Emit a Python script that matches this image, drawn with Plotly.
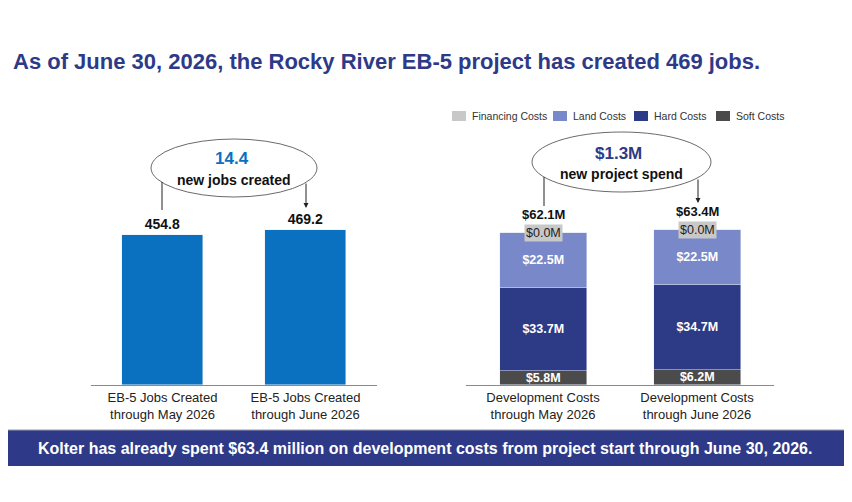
import plotly.graph_objects as go

# The page body adds an 8px margin, so the figure is sized to fit the remaining window.
OFF = 8
W, H = 852 - OFF, 478

# ---------------- data ----------------
jobs_categories = ["EB-5 Jobs Created<br>through May 2026", "EB-5 Jobs Created<br>through June 2026"]
jobs_values = [454.8, 469.2]
jobs_change_label = "14.4"

cost_categories = ["Development Costs<br>through May 2026", "Development Costs<br>through June 2026"]
soft_costs = [5.8, 6.2]
hard_costs = [33.7, 34.7]
land_costs = [22.5, 22.5]
financing_costs = [0.0, 0.0]
cost_totals = [62.1, 63.4]
cost_change_label = "$1.3M"

legend_names = ["Financing Costs", "Land Costs", "Hard Costs", "Soft Costs"]

title_text = "As of June 30, 2026, the Rocky River EB-5 project has created 469 jobs."
banner_text = "Kolter has already spent $63.4 million on development costs from project start through June 30, 2026."

# ---------------- styling ----------------
NAVY = "#2E3A87"
BLUE = "#0A70C0"
C_FIN = "#C8C8C8"
C_LAND = "#7888C8"
C_HARD = "#2D3A86"
C_SOFT = "#4B4B4B"
COLORS = {"Financing Costs": C_FIN, "Land Costs": C_LAND, "Hard Costs": C_HARD, "Soft Costs": C_SOFT}
FONT = "Liberation Sans, Arial, sans-serif"


def px(x):
    return (x - OFF) / W


def py(y):
    return 1 - (y - OFF) / H


base_px, top_px = 385, 100
left_scale = 150 / 454.8
right_scale = 152 / 62.1

fig = go.Figure()

fig.add_trace(go.Bar(
    x=jobs_categories, y=jobs_values, marker_color=BLUE, width=0.56,
    text=[f"{v:.1f}" for v in jobs_values], textposition="outside",
    textfont=dict(family=FONT, size=14, color="#111", weight="bold"), cliponaxis=False,
    showlegend=False, xaxis="x", yaxis="y", hoverinfo="skip",
))

series = [
    ("Soft Costs", soft_costs),
    ("Hard Costs", hard_costs),
    ("Land Costs", land_costs),
    ("Financing Costs", financing_costs),
]
for name, vals in series:
    show_text = name != "Financing Costs"
    fig.add_trace(go.Bar(
        x=cost_categories, y=vals, name=name, marker_color=COLORS[name], width=0.565,
        text=[f"${v:.1f}M" for v in vals] if show_text else None,
        textposition="inside" if show_text else "none",
        insidetextanchor="middle", constraintext="none",
        textfont=dict(family=FONT, size=12.5, color="white", weight="bold"),
        xaxis="x2", yaxis="y2", hoverinfo="skip", showlegend=False,
    ))

annotations = []
# financing grey boxes + totals
for cat, fin, tot in zip(cost_categories, financing_costs, cost_totals):
    annotations.append(dict(
        x=cat, y=tot, xref="x2", yref="y2", text=f"${fin:.1f}M", showarrow=False,
        xanchor="center", yanchor="middle", bgcolor=C_FIN, borderpad=1,
        font=dict(family=FONT, size=12.5, color="#222"),
    ))
    annotations.append(dict(
        x=cat, y=tot, xref="x2", yref="y2", text=f"<b>${tot:.1f}M</b>", showarrow=False,
        xanchor="center", yanchor="bottom", yshift=9,
        font=dict(family=FONT, size=13, color="#111"),
    ))

# title
annotations.append(dict(
    x=px(11), y=py(61), xref="paper", yref="paper", xanchor="left", yanchor="middle",
    text=f"<b>{title_text}</b>", showarrow=False,
    font=dict(family=FONT, size=22, color=NAVY),
))
# banner text
annotations.append(dict(
    x=px(425), y=py(448), xref="paper", yref="paper", xanchor="center", yanchor="middle",
    text=f"<b>{banner_text}</b>", showarrow=False,
    font=dict(family=FONT, size=16, color="white"),
))

# ellipse texts
annotations += [
    dict(x=px(232), y=py(159), xref="paper", yref="paper", text=f"<b>{jobs_change_label}</b>",
         xanchor="center", yanchor="middle",
         showarrow=False, font=dict(family=FONT, size=17, color=BLUE)),
    dict(x=px(234), y=py(180), xref="paper", yref="paper", text="<b>new jobs created</b>",
         xanchor="center", yanchor="middle",
         showarrow=False, font=dict(family=FONT, size=14, color="#111")),
    dict(x=px(618), y=py(153), xref="paper", yref="paper", text=f"<b>{cost_change_label}</b>",
         xanchor="center", yanchor="middle",
         showarrow=False, font=dict(family=FONT, size=17, color=NAVY)),
    dict(x=px(621), y=py(174), xref="paper", yref="paper", text="<b>new project spend</b>",
         xanchor="center", yanchor="middle",
         showarrow=False, font=dict(family=FONT, size=14, color="#111")),
]
# arrows
annotations.append(dict(x=px(306), y=py(208), ax=0, ay=-26, xref="paper", yref="paper",
                        text="", showarrow=True,
                        arrowhead=2, arrowsize=1, arrowwidth=1, arrowcolor="#222"))
annotations.append(dict(x=px(698), y=py(203), ax=0, ay=-25, xref="paper", yref="paper",
                        text="", showarrow=True,
                        arrowhead=2, arrowsize=1, arrowwidth=1, arrowcolor="#222"))

shapes = [
    # banner
    dict(type="rect", xref="paper", yref="paper", x0=px(0), x1=px(852), y0=py(466), y1=py(430),
         fillcolor=NAVY, line=dict(width=0), layer="below"),
    dict(type="line", xref="paper", yref="paper", x0=px(0), x1=px(852), y0=py(430), y1=py(430),
         line=dict(color="#9A9AB0", width=1.2)),
    # ellipses
    dict(type="circle", xref="paper", yref="paper", x0=px(151), x1=px(317), y0=py(197), y1=py(139),
         line=dict(color="#444", width=0.8)),
    dict(type="circle", xref="paper", yref="paper", x0=px(532), x1=px(711), y0=py(192), y1=py(132),
         line=dict(color="#444", width=0.8)),
    # plain connector lines
    dict(type="line", xref="paper", yref="paper", x0=px(162), x1=px(162), y0=py(182), y1=py(210),
         line=dict(color="#222", width=1)),
    dict(type="line", xref="paper", yref="paper", x0=px(544), x1=px(544), y0=py(177), y1=py(206),
         line=dict(color="#222", width=1)),
]

# legend (swatch + label for each cost series)
legend_x = [452, 553, 634, 716]
for name, lx in zip(legend_names, legend_x):
    shapes.append(dict(type="rect", xref="paper", yref="paper", x0=px(lx), x1=px(lx + 14),
                       y0=py(121), y1=py(111), fillcolor=COLORS[name], line=dict(width=0)))
    annotations.append(dict(x=px(lx + 18), y=py(116), xref="paper", yref="paper", text=name,
                            xanchor="left", yanchor="middle", showarrow=False,
                            font=dict(family=FONT, size=10.5, color="#333")))

axis_common = dict(showline=True, linecolor="#8A8A8A", linewidth=1, ticks="",
                   tickfont=dict(family=FONT, size=13, color="#222"), showgrid=False,
                   zeroline=False, fixedrange=True)
yaxis_common = dict(visible=False, showgrid=False, zeroline=False, fixedrange=True,
                    domain=[py(base_px), py(top_px)])

fig.update_layout(
    width=W, height=H, margin=dict(l=0, r=0, t=0, b=0),
    paper_bgcolor="white", plot_bgcolor="white",
    barmode="stack", bargap=0, showlegend=False,
    font=dict(family=FONT),
    xaxis=dict(domain=[px(91), px(377)], anchor="y", range=[-0.5, 1.5], **axis_common),
    yaxis=dict(range=[0, (base_px - top_px) / left_scale], **yaxis_common),
    xaxis2=dict(domain=[px(466), px(774)], anchor="y2", range=[-0.5, 1.5], **axis_common),
    yaxis2=dict(range=[0, (base_px - top_px) / right_scale], **yaxis_common),
    annotations=annotations, shapes=shapes,
)

fig.write_html("out.html")
